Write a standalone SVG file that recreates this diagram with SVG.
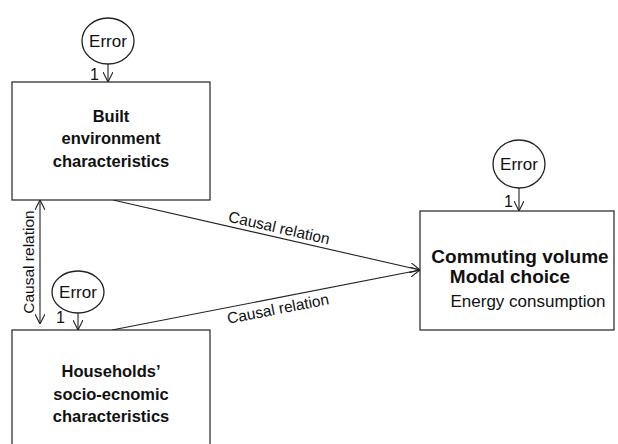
<svg xmlns="http://www.w3.org/2000/svg" width="618" height="444" viewBox="0 0 618 444">
<style>
.box{fill:#fff;stroke:#222;stroke-width:1.2}
.err{fill:#fff;stroke:#222;stroke-width:1.3}
.ln{fill:none;stroke:#222;stroke-width:1.1}
text{font-family:"Liberation Sans",Arial,sans-serif;fill:#111}
.t{font-size:16.5px;font-weight:bold;text-anchor:middle}
.e{font-size:17px;text-anchor:middle}
.lab{font-size:15.5px;text-anchor:middle}
.one{font-size:16px}
</style>
<defs>
<marker id="ah" viewBox="0 0 10 10" refX="10" refY="5" markerWidth="10" markerHeight="10" markerUnits="userSpaceOnUse" orient="auto-start-reverse">
<path d="M0,0 L10,5 L0,10" fill="none" stroke="#222" stroke-width="1.1"/>
</marker>
</defs>
<rect width="618" height="444" fill="#fff"/>
<g id="connectors">
<line class="ln" x1="108" y1="64" x2="108" y2="82" marker-end="url(#ah)"/>
<line class="ln" x1="78" y1="313" x2="78" y2="330" marker-end="url(#ah)"/>
<line class="ln" x1="519" y1="188" x2="519" y2="211" marker-end="url(#ah)"/>
<line class="ln" x1="40" y1="200" x2="40" y2="324" marker-start="url(#ah)" marker-end="url(#ah)"/>
<line class="ln" x1="113" y1="200" x2="420" y2="270" marker-end="url(#ah)"/>
<line class="ln" x1="112" y1="330" x2="420" y2="270" marker-end="url(#ah)"/>
<text class="lab" transform="translate(278,233) rotate(12.8)">Causal relation</text>
<text class="lab" transform="translate(279,314) rotate(-11)">Causal relation</text>
<text class="lab" transform="translate(34,262) rotate(-90)">Causal relation</text>
<text class="one" x="90" y="80">1</text>
<text class="one" x="56" y="323">1</text>
<text class="one" x="504" y="207">1</text>
</g>
<g id="error1">
<ellipse class="err" cx="108" cy="41" rx="26" ry="23"/>
<text class="e" x="108" y="47">Error</text>
</g>
<g id="error2">
<ellipse class="err" cx="78" cy="292" rx="26" ry="21"/>
<text class="e" x="78" y="298">Error</text>
</g>
<g id="error3">
<ellipse class="err" cx="519" cy="164" rx="26" ry="24"/>
<text class="e" x="519" y="170">Error</text>
</g>
<g id="built">
<rect class="box" x="12" y="82" width="198" height="118"/>
<text class="t" x="111" y="122">Built</text>
<text class="t" x="111" y="144">environment</text>
<text class="t" x="111" y="167">characteristics</text>
</g>
<g id="households">
<rect class="box" x="12" y="330" width="198" height="130"/>
<text class="t" x="111" y="377">Households’</text>
<text class="t" x="111" y="400">socio-ecnomic</text>
<text class="t" x="111" y="422">characteristics</text>
</g>
<g id="commuting">
<rect class="box" x="420" y="211" width="194" height="119"/>
<text class="t" x="520" y="263" style="font-size:19px">Commuting volume</text>
<text class="t" x="510" y="283" style="font-size:19px">Modal choice</text>
<text x="528" y="307" style="font-size:17px;text-anchor:middle">Energy consumption</text>
</g>
</svg>
